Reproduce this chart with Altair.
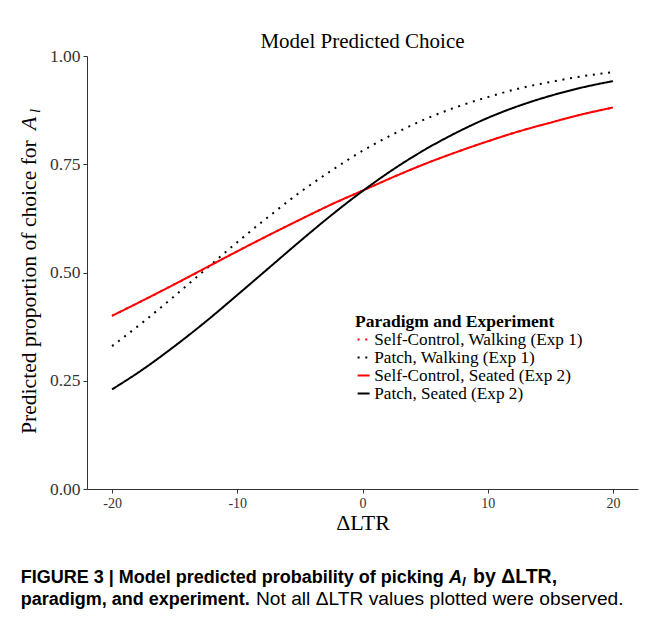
import altair as alt
import pandas as pd

# ---- data ----
x_ltr = [-20, -17.5, -15, -12.5, -10, -7.5, -5, -2.5, 0, 2.5, 5, 7.5, 10, 12.5, 15, 17.5, 20]
sc_walking = [0.400, 0.436, 0.473, 0.511, 0.549, 0.586, 0.622, 0.657, 0.689, 0.721, 0.751, 0.778, 0.803, 0.826, 0.846, 0.865, 0.881]
patch_walking = [0.330, 0.386, 0.446, 0.508, 0.570, 0.629, 0.685, 0.735, 0.781, 0.820, 0.854, 0.882, 0.905, 0.925, 0.940, 0.953, 0.963]
sc_seated = [0.400, 0.436, 0.473, 0.511, 0.549, 0.586, 0.622, 0.657, 0.689, 0.721, 0.751, 0.778, 0.803, 0.826, 0.846, 0.865, 0.881]
patch_seated = [0.230, 0.277, 0.330, 0.387, 0.448, 0.510, 0.572, 0.632, 0.688, 0.739, 0.784, 0.823, 0.857, 0.885, 0.908, 0.927, 0.942]

series_names = ["Self-Control, Walking (Exp 1)", "Patch, Walking (Exp 1)",
                "Self-Control, Seated (Exp 2)", "Patch, Seated (Exp 2)"]
series_colors = ["#ff0000", "#000000", "#ff0000", "#000000"]
series_dashes = [[2, 5.7], [2, 5.7], [1, 0], [1, 0]]
x_ticks = [-20, -10, 0, 10, 20]
y_ticks = [0.0, 0.25, 0.5, 0.75, 1.0]

chart_title = ["Model Predicted Choice"]
y_title_main = ["Predicted proportion of choice for"]
legend_title = "Paradigm and Experiment"

rows = []
for name, vals in zip(series_names, [sc_walking, patch_walking, sc_seated, patch_seated]):
    for xv, yv in zip(x_ltr, vals):
        rows.append({"ltr": xv, "p": yv, "series": name})
df = pd.DataFrame(rows)

W, H = 551, 433
serif = "Liberation Serif"
sans = "Liberation Sans"
OX, OY = 87, 56  # page position of plot origin

legend = alt.Legend(title=legend_title, orient="none", legendX=268, legendY=257)

lines = alt.Chart(df).mark_line(strokeWidth=2, interpolate="monotone").encode(
    x=alt.X("ltr:Q", scale=alt.Scale(domain=[-22, 22], nice=False, zero=False),
            axis=alt.Axis(values=x_ticks, title="ΔLTR", labelExpr="datum.value + ''",
                          titleBaseline="alphabetic", titleY=40)),
    y=alt.Y("p:Q", scale=alt.Scale(domain=[0, 1], nice=False),
            axis=alt.Axis(values=y_ticks, format=".2f", title=None)),
    color=alt.Color("series:N", scale=alt.Scale(domain=series_names, range=series_colors), legend=legend),
    strokeDash=alt.StrokeDash("series:N", scale=alt.Scale(domain=series_names, range=series_dashes), legend=legend),
)


def txt(s, px, py, **kw):
    return alt.Chart(pd.DataFrame({"t": [s]})).mark_text(**kw).encode(
        text="t:N", x=alt.value(px - OX), y=alt.value(py - OY))


layers = [
    lines,
    txt(chart_title[0], OX + W / 2, 47.5, font=serif, fontSize=21, align="center", baseline="alphabetic", color="black"),
    txt(y_title_main[0], 36, 434, font=serif, fontSize=21.6, angle=270, align="left", baseline="alphabetic", color="black"),
    txt("A", 36, 130, font=serif, fontSize=21.6, fontStyle="italic", angle=270, align="left", baseline="alphabetic", color="black"),
    txt("l", 40, 113, font=serif, fontSize=15, fontStyle="italic", angle=270, align="left", baseline="alphabetic", color="black"),
    txt("FIGURE 3 | Model predicted probability of picking", 20.7, 583, font=sans, fontSize=18, fontWeight="bold", align="left", baseline="alphabetic", color="black"),
    txt("A", 449, 583, font=sans, fontSize=18, fontWeight="bold", fontStyle="italic", align="left", baseline="alphabetic", color="black"),
    txt("l", 462, 586, font=sans, fontSize=13, fontWeight="bold", fontStyle="italic", align="left", baseline="alphabetic", color="black"),
    txt("by ΔLTR,", 473, 583, font=sans, fontSize=19.5, fontWeight="bold", align="left", baseline="alphabetic", color="black"),
    txt("paradigm, and experiment.", 20.7, 605, font=sans, fontSize=18, fontWeight="bold", align="left", baseline="alphabetic", color="black"),
    txt("Not all ΔLTR values plotted were observed.", 256, 605, font=sans, fontSize=19.2, align="left", baseline="alphabetic", color="black"),
]

chart = alt.layer(*layers).properties(
    width=W, height=H,
    autosize=alt.AutoSizeParams(type="none"),
    padding={"left": OX - 8, "top": OY - 8, "right": 3, "bottom": 126},
).configure_view(stroke=None).configure_axis(
    grid=False, domainColor="#333333", domainWidth=1, tickColor="#333333", tickWidth=1, tickSize=4,
    labelFont=serif, labelColor="#333333", labelPadding=3,
    titleFont=serif, titleFontSize=22, titleFontWeight="normal", titleColor="black",
).configure_axisX(labelFontSize=14).configure_axisY(labelFontSize=17.5).configure_legend(
    titleFont=serif, titleFontSize=17.5, titleFontWeight="bold", titleColor="black",
    labelFont=serif, labelFontSize=17.2, labelColor="black",
    symbolType="stroke", symbolSize=144, symbolStrokeWidth=2,
    labelOffset=2, rowPadding=0, titlePadding=0.5, padding=0, labelLimit=400, titleLimit=400,
)

chart.save("out.html", embed_options={"renderer": "svg", "actions": False})
